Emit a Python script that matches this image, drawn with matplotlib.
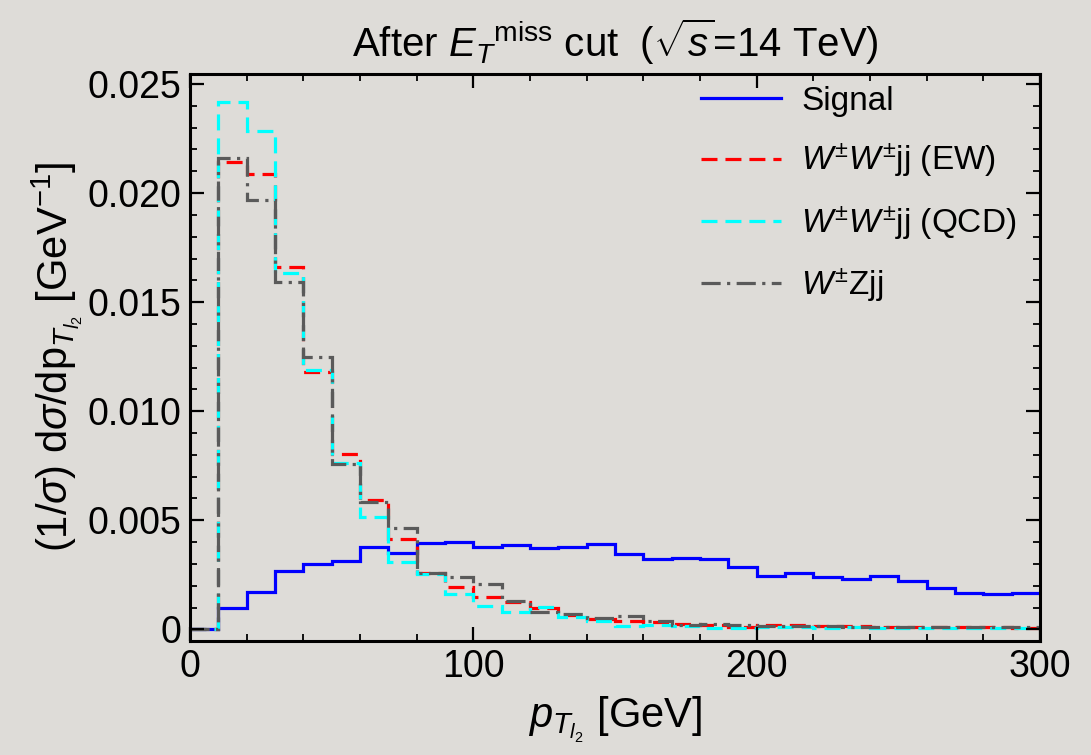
import matplotlib
matplotlib.use('Agg')
import matplotlib.pyplot as plt
import numpy as np
from matplotlib.ticker import MultipleLocator, FuncFormatter

plt.rcParams['font.family'] = ['Liberation Sans', 'DejaVu Sans']
plt.rcParams['mathtext.fontset'] = 'custom'
plt.rcParams['mathtext.rm'] = 'Liberation Sans'
plt.rcParams['mathtext.it'] = 'Liberation Sans:italic'
plt.rcParams['mathtext.bf'] = 'Liberation Sans:bold'

# 10 GeV bins of the subleading-lepton pT, 0-300 GeV
bin_edges = np.arange(0, 310, 10)

signal = [0.0, 0.00096, 0.00172, 0.00267, 0.00298, 0.00313, 0.00376, 0.00348, 0.00397, 0.00402,
          0.00379, 0.00386, 0.00374, 0.00379, 0.00390, 0.00345, 0.00322, 0.00328, 0.00324, 0.00284,
          0.00244, 0.00257, 0.00238, 0.00229, 0.00244, 0.00223, 0.00188, 0.00165, 0.00160, 0.00168]

wwjj_ew = [0.0, 0.02143, 0.02087, 0.01659, 0.01181, 0.00802, 0.00593, 0.00413, 0.00260, 0.00193,
           0.00147, 0.00127, 0.00096, 0.00066, 0.00046, 0.00038, 0.00032, 0.00023, 0.00020, 0.00010,
           0.00018, 0.00020, 0.00015, 0.00014, 0.00012, 0.00013, 0.00010, 0.00010, 0.00009, 0.00008]

wwjj_qcd = [0.0, 0.02416, 0.02286, 0.01635, 0.01189, 0.00761, 0.00513, 0.00310, 0.00255, 0.00162,
            0.00108, 0.00081, 0.00102, 0.00058, 0.00040, 0.00017, 0.00020, 0.00017, 0.00005, 0.00005,
            0.00010, 0.00012, 0.00008, 0.00009, 0.00007, 0.00008, 0.00006, 0.00007, 0.00006, 0.00005]

wzjj = [0.0, 0.02159, 0.01968, 0.01593, 0.01250, 0.00758, 0.00585, 0.00463, 0.00259, 0.00241,
        0.00210, 0.00130, 0.00080, 0.00072, 0.00050, 0.00060, 0.00040, 0.00022, 0.00025, 0.00020,
        0.00016, 0.00014, 0.00015, 0.00012, 0.00011, 0.00012, 0.00010, 0.00009, 0.00011, 0.00010]

bg = '#dedcd8'
fig = plt.figure(figsize=(10.91, 7.55), dpi=100, facecolor=bg)
ax = fig.add_axes([0.1742, 0.1514, 0.7791, 0.7506])
ax.set_facecolor(bg)

lw = 2.3
ax.stairs(signal, bin_edges, baseline=None, color='#0000ff', linewidth=lw, label='Signal')
ax.stairs(wwjj_ew, bin_edges, baseline=None, color='#ff0000', linewidth=lw,
          linestyle=(0, (5, 2.5)), label=r'$W^{\pm}W^{\pm}$jj (EW)')
ax.stairs(wwjj_qcd, bin_edges, baseline=None, color='#00ffff', linewidth=lw,
          linestyle=(0, (5, 2.5)), label=r'$W^{\pm}W^{\pm}$jj (QCD)')
ax.stairs(wzjj, bin_edges, baseline=None, color='#5a5a5a', linewidth=lw,
          linestyle=(0, (6, 2, 1, 2)), label=r'$W^{\pm}$Zjj')

ax.set_xlim(0, 300)
ax.set_ylim(-0.00052, 0.02546)

ax.xaxis.set_major_locator(MultipleLocator(100))
ax.xaxis.set_minor_locator(MultipleLocator(20))
ax.yaxis.set_major_locator(MultipleLocator(0.005))
ax.yaxis.set_minor_locator(MultipleLocator(0.001))
ax.yaxis.set_major_formatter(FuncFormatter(lambda v, p: '0' if abs(v) < 1e-9 else f'{v:.3f}'))

ax.tick_params(which='both', direction='in', top=True, right=True, labelsize=27, colors='black')
ax.tick_params(which='major', length=10, width=1.6, pad=6)
ax.tick_params(which='minor', length=5, width=1.3)
for s in ax.spines.values():
    s.set_linewidth(2.2)

ax.set_xlabel(r'$p_{T_{l_2}}$ [GeV]', fontsize=30, labelpad=7)
ax.set_ylabel(r'(1/$\sigma$) d$\sigma$/dp$_{T_{l_2}}$ [GeV$^{-1}$]', fontsize=30, labelpad=2)
ax.set_title(r'After ${E_T}^{\rm miss}$ cut  ($\sqrt{s}$=14 TeV)', fontsize=29, pad=12)

leg = ax.legend(loc='upper right', bbox_to_anchor=(0.992, 1.008), frameon=False, fontsize=24,
                borderpad=0, handlelength=2.4, handletextpad=0.6, labelspacing=0.74)

fig.savefig('out.png', dpi=100, facecolor=bg)
